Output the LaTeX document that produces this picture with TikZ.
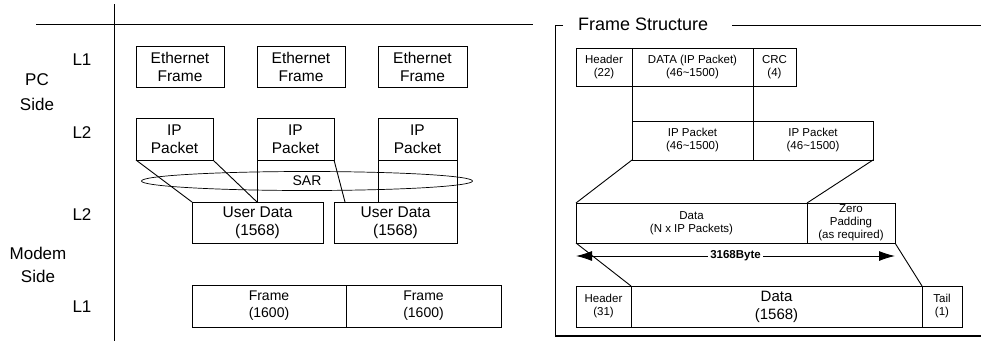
\documentclass[tikz,border=0pt]{standalone}
\usepackage{fontspec}
\setmainfont{Liberation Sans}
\usetikzlibrary{shapes.geometric,arrows.meta}
\begin{document}
\begin{tikzpicture}[x=1pt,y=-1pt,
  ln/.style={line width=0.9pt},
  box/.style={draw, line width=0.9pt, inner sep=0pt, outer sep=0pt, align=center,
    font=\fontsize{15.5}{18}\selectfont},
  sbox/.style={box, font=\fontsize{11.5}{13}\selectfont},
  lbl/.style={inner sep=0pt, font=\fontsize{17}{20}\selectfont, align=center}]
\useasboundingbox (0,0) rectangle (981,341);

% ---------- left panel frame ----------
\coordinate (vt) at (114,4);
\coordinate (vb) at (114,341);
\coordinate (hl) at (36,24);
\coordinate (hr) at (533,24);
\draw[ln] (vt) -- (vb);
\draw[ln] (hl) -- (hr);

% side labels
\node[lbl] (l1a) at (82,60) {L1};
\node[lbl] (pc) at (37,80) {PC};
\node[lbl] (pcs) at (37,104) {Side};
\node[lbl] (l2a) at (82,133) {L2};
\node[lbl] (l2b) at (82,215) {L2};
\node[lbl] (mod) at (38,253) {Modem};
\node[lbl] (mods) at (38,276) {Side};
\node[lbl] (l1b) at (82,307) {L1};

% Ethernet frames
\node[box, minimum width=88, minimum height=41] (E1) at (180,66.5) {Ethernet\\Frame};
\node[box, minimum width=88, minimum height=41] (E2) at (301,66.5) {Ethernet\\Frame};
\node[box, minimum width=89, minimum height=41] (E3) at (422.5,66.5) {Ethernet\\Frame};

% IP packets
\node[box, minimum width=77, minimum height=42] (IP1) at (174.5,139) {IP\\Packet};
\node[box, minimum width=77, minimum height=42] (IP2) at (295.5,139) {IP\\Packet};
\node[box, minimum width=79, minimum height=42] (IP3) at (417.5,139) {IP\\Packet};

% user data
\node[box, minimum width=131, minimum height=41] (UD1) at (257.5,222.5) {User Data\\(1568)};
\node[box, minimum width=123, minimum height=41] (UD2) at (395.5,222.5) {User Data\\(1568)};

% SAR ellipse
\node[ellipse, draw, line width=0.7pt, minimum width=331, minimum height=19, inner sep=0pt,
  font=\fontsize{14}{16}\selectfont] (SAR) at (307,181) {SAR};

% mapping lines
\coordinate (u1m) at (257,202);
\coordinate (u2a) at (345,202);
\coordinate (u2b) at (378,202);
\draw[ln] (IP1.south west) -- (UD1.north west);
\draw[ln] (IP1.south east) -- (u1m);
\draw[ln] (IP2.south west) -- (u1m);
\draw[ln] (IP2.south east) -- (u2a);
\draw[ln] (IP3.south west) -- (u2b);
\draw[ln] (IP3.south east) -- (UD2.north east);

% frames
\node[box, minimum width=154, minimum height=42, font=\fontsize{14}{17}\selectfont] (F1) at (269,306) {Frame\\(1600)};
\node[box, minimum width=155, minimum height=42, font=\fontsize{14}{17}\selectfont] (F2) at (423.5,306) {Frame\\(1600)};

% ---------- right panel frame ----------
\coordinate (rt1) at (563,25);
\coordinate (rc) at (555,25);
\coordinate (rb) at (555,336);
\coordinate (rbr) at (981,336);
\coordinate (rt2) at (732,25);
\coordinate (rt3) at (981,25);
\draw[ln] (rt1) -- (rc) -- (rb);
\draw[line width=1.4pt] (rb) -- (rbr);
\draw[ln] (rt2) -- (rt3);
\node[inner sep=0pt, anchor=base west, font=\fontsize{18}{20}\selectfont] (title) at (578,30) {Frame Structure};

% row 1
\node[sbox, minimum width=56, minimum height=38] (H1) at (604,67) {Header\\(22)};
\node[sbox, minimum width=121, minimum height=38] (D1) at (692.5,67) {DATA (IP Packet)\\(46\textasciitilde1500)};
\node[sbox, minimum width=43, minimum height=38] (C1) at (774.5,67) {CRC\\(4)};

% row 2
\node[sbox, minimum width=121, minimum height=39] (P1) at (692.5,140.5) {IP Packet\\(46\textasciitilde1500)};
\node[sbox, minimum width=120, minimum height=39] (P2) at (813,140.5) {IP Packet\\(46\textasciitilde1500)};
\draw[ln] (D1.south west) -- (P1.north west);
\draw[ln] (D1.south east) -- (P1.north east);

% row 3
\node[sbox, minimum width=231, minimum height=40] (ND) at (691.5,223) {Data\\(N x IP Packets)};
\node[sbox, minimum width=88, minimum height=40] (ZP) at (851,223) {Zero\\Padding\\(as required)};
\draw[ln] (P1.south west) -- (ND.north west);
\draw[ln] (P2.south east) -- (ZP.north west);

% arrow
\coordinate (a1) at (576,256);
\coordinate (a2) at (895,256);
\draw[ln, {Latex[length=16pt,width=10pt]}-{Latex[length=16pt,width=10pt]}] (a1) -- (a2)
  node[midway, fill=white, inner sep=2pt, font=\fontsize{11.5}{13}\selectfont\bfseries] (al) {3168Byte};

% row 4
\node[sbox, minimum width=55, minimum height=41] (H2) at (603.5,306.5) {Header\\(31)};
\node[box, minimum width=291, minimum height=41, font=\fontsize{15}{18}\selectfont] (D2) at (776.5,306.5) {Data\\(1568)};
\node[sbox, minimum width=40, minimum height=41] (T2) at (942,306.5) {Tail\\(1)};
\draw[ln] (ND.south west) -- (H2.north east);
\draw[ln] (ZP.south east) -- (T2.north west);
\end{tikzpicture}
\end{document}
